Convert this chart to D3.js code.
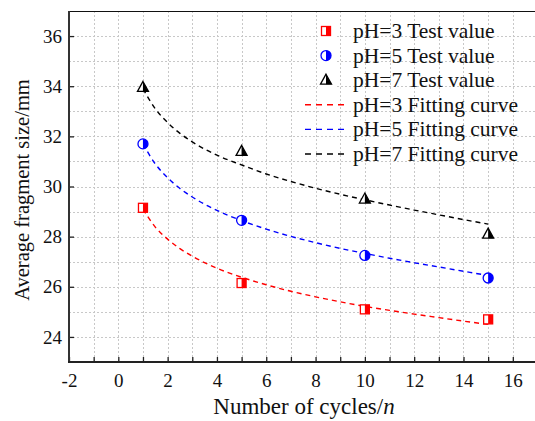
<!DOCTYPE html>
<html>
<head>
<meta charset="utf-8">
<script src="https://cdn.jsdelivr.net/npm/d3@7"></script>
<style>
  html, body { margin: 0; padding: 0; background: #fff; }
  svg { display: block; font-family: "Liberation Serif", "Times New Roman", serif; }
</style>
</head>
<body>
<div id="chart"></div>
<script>
// measured test values
const cycles  = [1, 5, 10, 15];
const ph3Test = [29.15, 26.15, 25.1, 24.7];
const ph5Test = [31.7, 28.65, 27.25, 26.35];
const ph7Test = [33.95, 31.4, 29.5, 28.1];

// fitting curves
const fitX  = [1, 1.5, 2, 2.5, 3, 4, 5, 6, 7, 8, 9, 10, 11, 12, 13, 14, 15];
const ph3Fit = [29.1, 28.38, 27.9, 27.52, 27.22, 26.74, 26.38, 26.08, 25.82, 25.6, 25.4, 25.22, 25.06, 24.91, 24.77, 24.63, 24.5];
const ph5Fit = [31.7, 30.9, 30.35, 29.92, 29.58, 29.05, 28.64, 28.3, 28.01, 27.76, 27.53, 27.33, 27.14, 26.96, 26.79, 26.62, 26.45];
const ph7Fit = [33.9, 33.1, 32.55, 32.12, 31.78, 31.25, 30.86, 30.5, 30.2, 29.93, 29.69, 29.47, 29.26, 29.06, 28.87, 28.68, 28.5];

const xTicks = [-2, 0, 2, 4, 6, 8, 10, 12, 14, 16];
const yTicks = [24, 26, 28, 30, 32, 34, 36];

const legendLabels = [
  'pH=3 Test value', 'pH=5 Test value', 'pH=7 Test value',
  'pH=3 Fitting curve', 'pH=5 Fitting curve', 'pH=7 Fitting curve'
];

const W = 535, H = 421;
const L = 69, R = 535, T = 11, B = 362;

const svg = d3.select('#chart').append('svg').attr('width', W).attr('height', H);

const x = d3.scaleLinear().domain([-2, 16.9]).range([L, R]);
const y = d3.scaleLinear().domain([23, 37]).range([B, T]);

// grid, every unit
const grid = svg.append('g').attr('stroke', '#c8c8c8').attr('stroke-width', 1).attr('stroke-dasharray', '2,2');
d3.range(-1, 17).forEach(v => {
  grid.append('line').attr('x1', Math.round(x(v)) + 0.5).attr('x2', Math.round(x(v)) + 0.5)
    .attr('y1', T).attr('y2', B);
});
d3.range(24, 37).forEach(v => {
  grid.append('line').attr('y1', Math.round(y(v)) + 0.5).attr('y2', Math.round(y(v)) + 0.5)
    .attr('x1', L).attr('x2', R);
});

// axes
const xAxis = d3.axisBottom(x).tickValues(d3.range(-2, 17)).tickSize(-5).tickPadding(12)
  .tickFormat(d => xTicks.includes(d) ? d : '');
const gx = svg.append('g').attr('transform', `translate(0,${B})`).call(xAxis);
gx.select('.domain').remove();
gx.selectAll('.tick line').attr('stroke', '#222').attr('stroke-width', 1.3);
gx.selectAll('.tick text').attr('fill', '#111').style('font-size', '19px')
  .style('font-family', '"Liberation Serif", serif');

const yAxis = d3.axisLeft(y).tickValues(yTicks).tickSize(-5).tickPadding(7);
const gy = svg.append('g').attr('transform', `translate(${L},0)`).call(yAxis);
gy.select('.domain').remove();
gy.selectAll('.tick line').attr('stroke', '#222').attr('stroke-width', 1.3);
gy.selectAll('.tick text').attr('fill', '#111').style('font-size', '19px')
  .style('font-family', '"Liberation Serif", serif');

// frame
svg.append('line').attr('x1', L).attr('x2', R).attr('y1', T + 0.5).attr('y2', T + 0.5)
  .attr('stroke', '#111').attr('stroke-width', 1.2);
svg.append('line').attr('x1', L).attr('x2', L).attr('y1', T).attr('y2', B + 1)
  .attr('stroke', '#333').attr('stroke-width', 2);
svg.append('line').attr('x1', L - 1).attr('x2', R).attr('y1', B).attr('y2', B)
  .attr('stroke', '#222').attr('stroke-width', 2);

// fitting curves
const line = d3.line().x(d => x(d[0])).y(d => y(d[1])).curve(d3.curveMonotoneX);
[[ph3Fit, '#ff0000'], [ph5Fit, '#0000ff'], [ph7Fit, '#000']].forEach(([vals, c]) => {
  svg.append('path').datum(fitX.map((v, i) => [v, vals[i]]))
    .attr('d', line).attr('fill', 'none').attr('stroke', c)
    .attr('stroke-width', 1.4).attr('stroke-dasharray', '5,4');
});

// half-filled markers (left half open)
function marker(g, kind, cx, cy, color) {
  const m = g.append('g').attr('transform', `translate(${cx},${cy})`);
  if (kind === 'square') {
    const s = 4.5;
    m.append('rect').attr('x', -s).attr('y', -s).attr('width', 2 * s).attr('height', 2 * s)
      .attr('fill', '#fff').attr('stroke', color).attr('stroke-width', 1.3);
    m.append('rect').attr('x', 0).attr('y', -s).attr('width', s).attr('height', 2 * s).attr('fill', color);
  } else if (kind === 'circle') {
    const r = 5;
    m.append('circle').attr('r', r).attr('fill', '#fff').attr('stroke', color).attr('stroke-width', 1.3);
    m.append('path').attr('d', `M0,${-r} A${r},${r} 0 0 1 0,${r} Z`).attr('fill', color);
  } else {
    const h = 10, w = 5.5;
    m.append('path').attr('d', `M0,${-h * 0.6} L${w},${h * 0.4} L${-w},${h * 0.4} Z`)
      .attr('fill', '#fff').attr('stroke', color).attr('stroke-width', 1.3);
    m.append('path').attr('d', `M0,${-h * 0.6} L${w},${h * 0.4} L0,${h * 0.4} Z`).attr('fill', color);
  }
}

const pts = svg.append('g');
cycles.forEach((c, i) => {
  marker(pts, 'square', x(c), y(ph3Test[i]), '#ff0000');
  marker(pts, 'circle', x(c), y(ph5Test[i]), '#0000ff');
  marker(pts, 'triangle', x(c), y(ph7Test[i]), '#000');
});

// legend
const lg = svg.append('g');
const kinds = ['square', 'circle', 'triangle'];
const colors = ['#ff0000', '#0000ff', '#000'];
legendLabels.forEach((lbl, i) => {
  const ly = 31 + i * 24.6;
  if (i < 3) {
    lg.append('rect').attr('x', 318).attr('y', ly - 9).attr('width', 18).attr('height', 18).attr('fill', '#fff');
    marker(lg, kinds[i], 326, ly, colors[i]);
  } else {
    lg.append('line').attr('x1', 305).attr('x2', 349).attr('y1', ly).attr('y2', ly)
      .attr('stroke', colors[i - 3]).attr('stroke-width', 1.4).attr('stroke-dasharray', '6,5');
  }
  lg.append('text').attr('x', 353).attr('y', ly + 7).attr('fill', '#111')
    .style('font-size', '21.5px').text(lbl);
});

// axis titles
svg.append('text').attr('x', 304).attr('y', 414).attr('text-anchor', 'middle')
  .attr('fill', '#111').style('font-size', '23px')
  .html('Number of cycles/<tspan font-style="italic">n</tspan>');
svg.append('text').attr('transform', 'translate(29,190) rotate(-90)').attr('text-anchor', 'middle')
  .attr('fill', '#111').style('font-size', '20.5px').text('Average fragment size/mm');
</script>
</body>
</html>
